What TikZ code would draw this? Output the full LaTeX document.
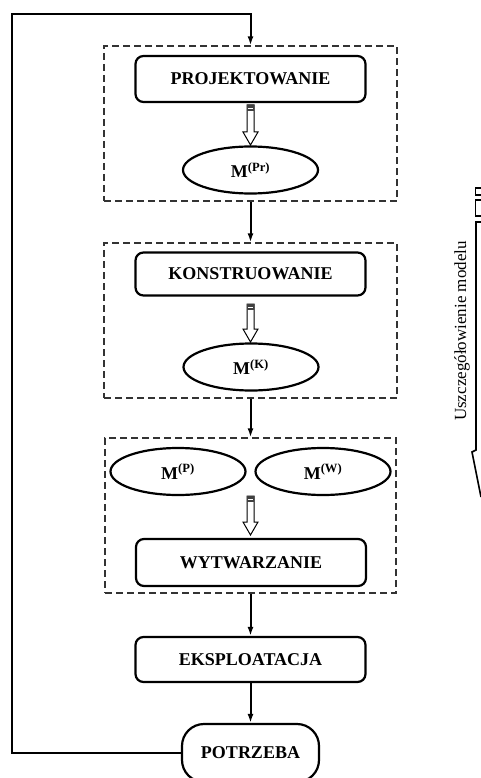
\documentclass[tikz,border=0pt]{standalone}
\usepackage{fontspec}
\setmainfont{Liberation Serif}
\usepackage{tikz}
\usetikzlibrary{arrows.meta,shapes.geometric,calc,positioning}

\newcommand{\hollowarrow}[2]{%
  \draw[line width=1pt, fill=white] ($(#1)+(-3.5,0)$) -- ($(#2)+(-3.5,-13)$) -- ($(#2)+(-7.5,-13)$) -- (#2)
    -- ($(#2)+(7.5,-13)$) -- ($(#2)+(3.5,-13)$) -- ($(#1)+(3.5,0)$) -- cycle;
  \fill[black!75] ($(#1)+(-3.5,0)$) rectangle ($(#1)+(3.5,6)$);
  \draw[white, line width=0.8pt] ($(#1)+(-2.5,3)$) -- ($(#1)+(2.5,3)$);}

\begin{document}
\begin{tikzpicture}[x=1pt, y=-1pt,
    txt/.style={font=\fontsize{18}{21}\selectfont\bfseries},
    box/.style={txt, draw, line width=2.2pt, rounded corners=8pt, minimum width=230pt, minimum height=46pt},
    model/.style={txt, draw, ellipse, line width=2.2pt, minimum width=135pt, minimum height=47pt, inner sep=0pt},
    frame/.style={draw, black!80, line width=1.3pt, dash pattern=on 7pt off 4pt},
    link/.style={line width=2pt, -{Latex[length=9pt,width=6pt]}}]
    \clip (0,0) rectangle (481,778);

    % dashed stages
    \node[frame, minimum width=293pt, minimum height=155pt] (f1) at (250.5,123.5){};
    \node[frame, minimum width=293pt, minimum height=155pt] (f2) at (250.5,320.5){};
    \node[frame, minimum width=291pt, minimum height=155pt] (f3) at (250.5,515.5){};

    \node[box] (proj) at (250.5,79){PROJEKTOWANIE};
    \node[model] (mpr) at (250.5,170){M\textsuperscript{(Pr)}};
    \hollowarrow{250.5,105}{250.5,145}

    \node[box, minimum height=43pt] (kons) at (250.5,274){KONSTRUOWANIE};
    \node[model] (mk) at (251,367){M\textsuperscript{(K)}};
    \hollowarrow{250.5,304}{250.5,342}

    \node[model] (mp) at (178,471.5){M\textsuperscript{(P)}};
    \node[model] (mw) at (323,471.5){M\textsuperscript{(W)}};
    \hollowarrow{250.5,496}{250.5,535}
    \node[box, minimum height=47pt] (wytw) at (251,562.5){WYTWARZANIE};

    \node[box, minimum height=45pt] (eksp) at (250.5,659.5){EKSPLOATACJA};
    \node[txt, draw, line width=2.2pt, rounded corners=22pt, minimum width=137pt, minimum height=58pt] (potr) at (250.5,753){POTRZEBA};

    % connectors
    \draw[link] (f1.south) -- (f2.north);
    \draw[link] (f2.south) -- (f3.north);
    \draw[link] (f3.south) -- (eksp.north);
    \draw[link] (eksp.south) -- (potr.north);
    \coordinate (corner) at (12,14);
    \draw[link] (potr.west) -| (corner) -| (f1.north);

    % side arrow
    \begin{scope}[line width=1.6pt]
      \draw (483,188) -| (475.5,195) -- (483,195);
      \draw (483,200) -| (475.5,216) -- (483,216);
      \draw (483,222) -- (476,222) -- (476,450) -- (472,452) -- (481,497);
    \end{scope}
    \node[font=\fontsize{17}{20}\selectfont, rotate=90] (detail) at (462,331){Uszczegółowienie modelu};
  \end{tikzpicture}
\end{document}
